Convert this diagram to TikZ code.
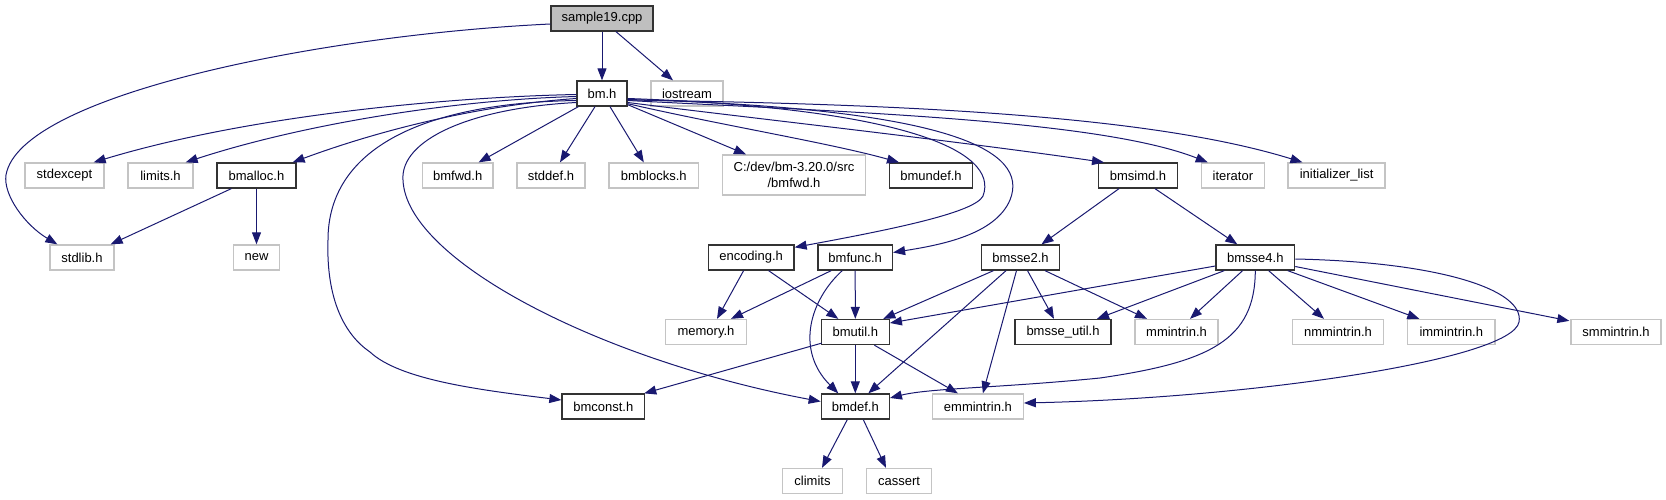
\documentclass[tikz,border=0pt]{standalone}
\usepackage{fontspec}
\setmainfont{Liberation Sans}
\usetikzlibrary{arrows.meta,calc}
\definecolor{edgec}{HTML}{191970}
\definecolor{grayb}{HTML}{C4C4C4}
\definecolor{rootf}{HTML}{BFBFBF}
\definecolor{blkb}{HTML}{333333}
\begin{document}
\begin{tikzpicture}[x=1pt,y=-1pt,
  box/.style={rectangle, inner sep=0pt, minimum height=25pt, font=\fontsize{13}{16}\selectfont, line width=1.3pt, fill=white},
  blk/.style={box, draw=blkb},
  gry/.style={box, draw=grayb},
  root/.style={box, draw=blkb, fill=rootf},
  edge/.style={draw=edgec, line width=1pt, -{Triangle[length=12pt,width=9pt]}}]
\useasboundingbox (0,0) rectangle (1666,500);
% row 0/1
\node[root, minimum width=102pt] (s19) at (602,18.5) {sample19.cpp};
\node[blk, minimum width=50pt] (bm) at (602,93.5) {bm.h};
\node[gry, minimum width=72pt] (iostream) at (687,93.5) {iostream};
% row 2
\node[gry, minimum width=79pt] (stdexcept) at (64.5,175.5) {stdexcept};
\node[gry, minimum width=65pt] (limits) at (160.5,175.5) {limits.h};
\node[blk, minimum width=79pt] (bmalloc) at (256.5,175.5) {bmalloc.h};
\node[gry, minimum width=70.5pt] (bmfwd) at (457.75,175.5) {bmfwd.h};
\node[gry, minimum width=68pt] (stddef) at (551,175.5) {stddef.h};
\node[gry, minimum width=89.6pt] (bmblocks) at (653.8,175.5) {bmblocks.h};
\node[gry, minimum width=143pt, minimum height=40pt, align=center] (cdev) at (794,175) {C:/dev/bm-3.20.0/src\\/bmfwd.h};
\node[blk, minimum width=83pt] (bmundef) at (931,175.5) {bmundef.h};
\node[blk, minimum width=78.7pt] (bmsimd) at (1138,175.5) {bmsimd.h};
\node[gry, minimum width=63pt] (iterator) at (1232.9,175.5) {iterator};
\node[gry, minimum width=97pt] (initlist) at (1336.6,175.5) {initializer\_list};
% row 3
\node[gry, minimum width=64pt] (stdlib) at (82,257.5) {stdlib.h};
\node[gry, minimum width=45.7pt] (new) at (256.5,257.5) {new};
\node[blk, minimum width=85.8pt] (encoding) at (751.1,257.5) {encoding.h};
\node[blk, minimum width=74.5pt] (bmfunc) at (855.2,257.5) {bmfunc.h};
\node[blk, minimum width=78pt] (bmsse2) at (1020.5,257.5) {bmsse2.h};
\node[blk, minimum width=78.6pt] (bmsse4) at (1255.3,257.5) {bmsse4.h};
% row 4
\node[gry, minimum width=80.7pt] (memory) at (706,332) {memory.h};
\node[blk, minimum width=68pt] (bmutil) at (855.3,332) {bmutil.h};
\node[blk, minimum width=95.8pt] (bmsseutil) at (1063,332) {bmsse\_util.h};
\node[gry, minimum width=83pt] (mmintrin) at (1176.5,332) {mmintrin.h};
\node[gry, minimum width=91pt] (nmmintrin) at (1338,332) {nmmintrin.h};
\node[gry, minimum width=87.4pt] (immintrin) at (1451.3,332) {immintrin.h};
\node[gry, minimum width=90pt] (smmintrin) at (1616,332) {smmintrin.h};
% row 5
\node[blk, minimum width=82.6pt] (bmconst) at (603.3,406.5) {bmconst.h};
\node[blk, minimum width=68pt] (bmdef) at (855.3,406.5) {bmdef.h};
\node[gry, minimum width=90.7pt] (emmintrin) at (977.9,406.5) {emmintrin.h};
% row 6
\node[gry, minimum width=60pt] (climits) at (812.5,481) {climits};
\node[gry, minimum width=65.4pt] (cassert) at (899,481) {cassert};

% edges from sample19.cpp
\draw[edge] (s19.south) -- (bm.north);
\draw[edge] ($(s19.south)+(14,0)$) -- ($(iostream.north)+(-14,0)$);
\draw[edge] ($(s19.west)+(0,5.5)$) .. controls (320,35) and (20,95) .. (6,175) .. controls (3,195) and (25,225) .. ($(stdlib.north west)+(8,0)$);
% edges from bm.h (left)
\draw[edge] ($(bm.west)+(0,1)$) .. controls (450,97) and (250,115) .. ($(stdexcept.north east)+(-11,0)$);
\draw[edge] ($(bm.west)+(0,3)$) .. controls (450,100) and (300,125) .. ($(limits.north east)+(-8,0)$);
\draw[edge] ($(bm.west)+(0,5)$) .. controls (480,105) and (380,130) .. ($(bmalloc.north east)+(-4,0)$);
\draw[edge] ($(bm.west)+(0,7)$) .. controls (420,103) and (328,150) .. (328,240) .. controls (326,300) and (345,335) .. (370,352) .. controls (400,380) and (480,390) .. ($(bmconst.west)+(0,-6.5)$);
\draw[edge] ($(bm.west)+(0,9)$) .. controls (470,108) and (400,140) .. (403,180) .. controls (406,260) and (600,360) .. ($(bmdef.west)+(0,-5)$);
\draw[edge] ($(bm.south west)+(2,0)$) -- ($(bmfwd.north east)+(-15,0)$);
\draw[edge] ($(bm.south)+(-7,0)$) -- ($(stddef.north)+(9,0)$);
\draw[edge] ($(bm.south)+(8,0)$) -- ($(bmblocks.north)+(-10,0)$);
% edges from bm.h (right)
\draw[edge] ($(bm.south east)+(0,-2)$) -- ($(cdev.north)+(-48,0)$);
\draw[edge] ($(bm.south east)+(0,-3)$) .. controls (720,125) and (830,143) .. ($(bmundef.north)+(-32,0)$);
\draw[edge] ($(bm.east)+(0,5)$) .. controls (900,108) and (1000,150) .. (983,196) .. controls (975,212) and (900,228) .. ($(encoding.north east)+(0,3)$);
\draw[edge] ($(bm.east)+(0,6)$) .. controls (950,108) and (1030,150) .. (1010,200) .. controls (995,235) and (940,245) .. ($(bmfunc.east)+(0,-5)$);
\draw[edge] ($(bm.east)+(0,9)$) .. controls (750,118) and (950,140) .. ($(bmsimd.north west)+(6,0)$);
\draw[edge] ($(bm.east)+(0,7)$) .. controls (850,112) and (1100,120) .. ($(iterator.north west)+(7,0)$);
\draw[edge] ($(bm.east)+(0,6.5)$) .. controls (900,104) and (1150,115) .. ($(initlist.north west)+(15,0)$);
% bmalloc.h
\draw[edge] ($(bmalloc.south west)+(15,0)$) -- ($(stdlib.north east)+(-4,0)$);
\draw[edge] (bmalloc.south) -- (new.north);
% bmsimd.h
\draw[edge] ($(bmsimd.south)+(-19,0)$) -- ($(bmsse2.north)+(21,0)$);
\draw[edge] ($(bmsimd.south)+(17,0)$) -- ($(bmsse4.north)+(-18,0)$);
% encoding.h
\draw[edge] ($(encoding.south)+(-7.5,0)$) -- ($(memory.north)+(11,0)$);
\draw[edge] ($(encoding.south)+(17.5,0)$) -- ($(bmutil.north)+(-17,0)$);
% bmfunc.h
\draw[edge] ($(bmfunc.south)+(-24,0)$) -- ($(memory.north)+(25,0)$);
\draw[edge] (bmfunc.south) -- (bmutil.north);
\draw[edge] ($(bmfunc.south)+(-13,0)$) .. controls (810,300) and (795,350) .. ($(bmdef.north)+(-17,0)$);
% bmsse2.h
\draw[edge] ($(bmsse2.south)+(-27,0)$) -- ($(bmutil.north)+(28,0)$);
\draw[edge] ($(bmsse2.south)+(-14.5,0)$) -- ($(bmdef.north)+(13,0)$);
\draw[edge] ($(bmsse2.south)+(-4,0)$) -- ($(emmintrin.north)+(5,0)$);
\draw[edge] ($(bmsse2.south)+(7,0)$) -- ($(bmsseutil.north)+(-9,0)$);
\draw[edge] ($(bmsse2.south)+(24.5,0)$) -- ($(mmintrin.north)+(-29.5,0)$);
% bmsse4.h
\draw[edge] ($(bmsse4.west)+(0,8.5)$) -- ($(bmutil.east)+(0,-9)$);
\draw[edge] ($(bmsse4.south)+(-31,0)$) -- ($(bmsseutil.north)+(34,0)$);
\draw[edge] ($(bmsse4.south)+(-12.7,0)$) -- ($(mmintrin.north)+(13.5,0)$);
\draw[edge] (bmsse4.south) .. controls (1255,340) and (1210,362) .. (1100,378) .. controls (1000,388) and (930,388) .. ($(bmdef.east)+(0,-8.5)$);
\draw[edge] ($(bmsse4.south)+(13.3,0)$) -- ($(nmmintrin.north)+(-14,0)$);
\draw[edge] ($(bmsse4.south)+(32.4,0)$) -- ($(immintrin.north)+(-32,0)$);
\draw[edge] ($(bmsse4.east)+(0,9)$) -- ($(smmintrin.north west)+(-1,2)$);
\draw[edge] ($(bmsse4.east)+(0,1.5)$) .. controls (1440,262) and (1525,290) .. (1519,322) .. controls (1512,360) and (1250,398) .. ($(emmintrin.east)+(0,-3.5)$);
% bmutil.h
\draw[edge] ($(bmutil.south west)+(1,-2)$) -- ($(bmconst.north east)+(-1,0)$);
\draw[edge] (bmutil.south) -- (bmdef.north);
\draw[edge] ($(bmutil.south)+(19,0)$) -- ($(emmintrin.north)+(-20,0)$);
% bmdef.h
\draw[edge] ($(bmdef.south)+(-8,0)$) -- ($(climits.north)+(9.5,0)$);
\draw[edge] ($(bmdef.south)+(8,0)$) -- ($(cassert.north)+(-13,0)$);
\end{tikzpicture}
\end{document}
